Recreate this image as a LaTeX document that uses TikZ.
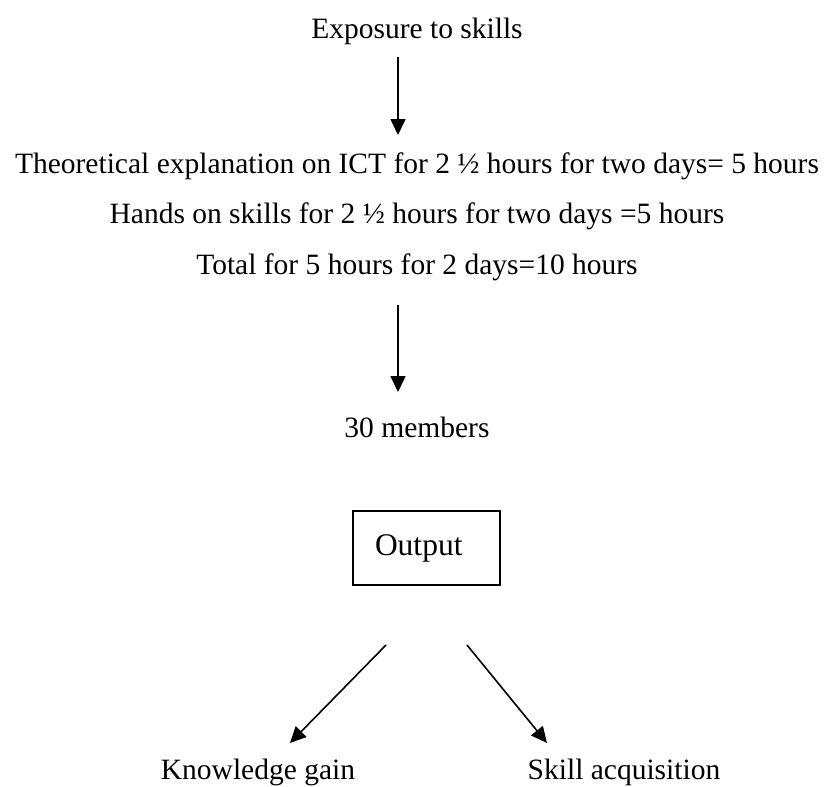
\documentclass[tikz,border=0pt]{standalone}
\usepackage{fontspec}
\setmainfont{Liberation Serif}
\usetikzlibrary{arrows.meta}
\begin{document}
\begin{tikzpicture}[x=1pt,y=-1pt,
  lbl/.style={anchor=base,inner sep=0pt,font=\fontsize{29.5}{35}\selectfont},
  arr/.style={line width=1.6pt,-{Triangle[length=16pt,width=15pt]}},
  outbox/.style={draw,line width=1.5pt,minimum width=147pt,minimum height=74pt,
    inner ysep=0pt,inner xsep=22pt,text width=103pt,align=left,
    font=\fontsize{31.5}{36}\selectfont}]
\useasboundingbox (0,0) rectangle (825,787);
\node[lbl] (exp) at (417,38) {Exposure to skills};
\node[lbl] (l1) at (417,173) {Theoretical explanation on ICT for 2 ½ hours for two days= 5 hours};
\node[lbl] (l2) at (417,223) {Hands on skills for 2 ½ hours for two days =5 hours};
\node[lbl] (l3) at (417,274) {Total for 5 hours for 2 days=10 hours};
\node[lbl] (mem) at (417,437) {30 members};
\node[outbox] (out) at (426.5,548) {Output};
\node[lbl] (kg) at (258,779) {Knowledge gain};
\node[lbl] (sa) at (624,779) {Skill acquisition};
\coordinate (a1s) at (398,57);
\coordinate (a1e) at (398,135);
\coordinate (a2s) at (398,305);
\coordinate (a2e) at (398,392);
\coordinate (a3s) at (386,645);
\coordinate (a3e) at (290,743);
\coordinate (a4s) at (467,645);
\coordinate (a4e) at (547,743);
\draw[arr] (a1s) -- (a1e);
\draw[arr] (a2s) -- (a2e);
\draw[arr] (a3s) -- (a3e);
\draw[arr] (a4s) -- (a4e);
\end{tikzpicture}
\end{document}
